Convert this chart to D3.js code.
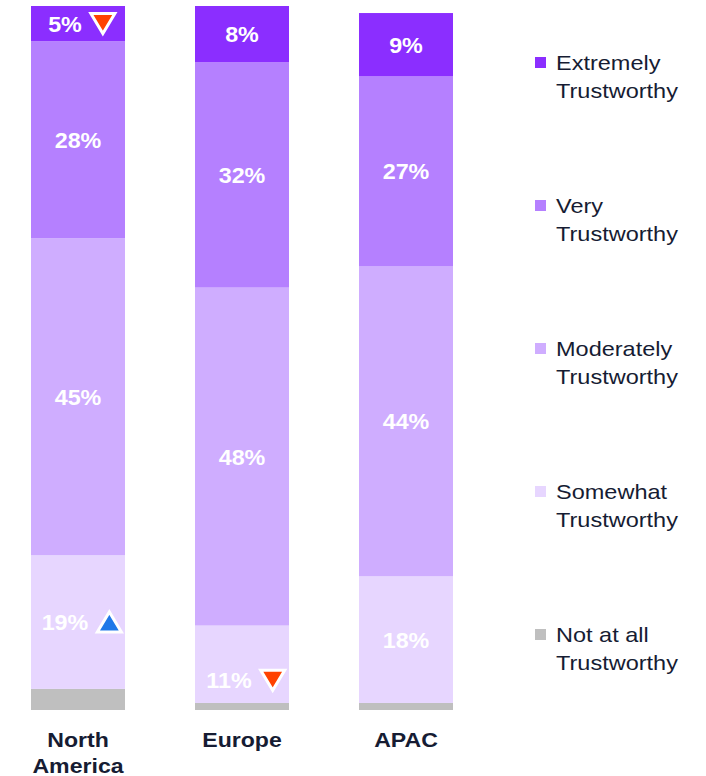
<!DOCTYPE html>
<html>
<head>
<meta charset="utf-8">
<script src="https://cdn.jsdelivr.net/npm/d3@7"></script>
<style>
	body { margin: 0; background: #fff; }
	svg { display: block; }
	text { font-family: Arial, "Liberation Sans", sans-serif; }
</style>
</head>
<body>
<svg id="chart" width="706" height="776"></svg>
<script>
'use strict';

// data
var categories = ["North America", "Europe", "APAC"];
var series = ["Extremely Trustworthy", "Very Trustworthy", "Moderately Trustworthy", "Somewhat Trustworthy", "Not at all Trustworthy"];
var extremely = [5, 8, 9];
var very = [28, 32, 27];
var moderately = [45, 48, 44];
var somewhat = [19, 11, 18];
var notAtAll = [3, 1, 1];
var showLabel = [true, true, true, true, false];
// significance arrows: category index, series index, direction
var arrows = [
	{cat: 0, ser: 0, dir: "down"},
	{cat: 0, ser: 3, dir: "up"},
	{cat: 1, ser: 3, dir: "down"}
];

var colors = ["#8b2eff", "#b580ff", "#cfadff", "#e7d6ff", "#bfbfbf"];
var textDark = "#161c33";
var sx = 1.1; // the original text is a bit wider than Arial

var svg = d3.select("#chart");

var x = d3.scaleBand().domain(categories).range([31, 453]).paddingInner(0.4268).paddingOuter(0);
var y = d3.scaleLinear().domain([0, 100]).range([710, 6]);

// stack bottom-up: not at all first
var valuesBySeries = [extremely, very, moderately, somewhat, notAtAll];
var rows = categories.map(function(c, i){
	var r = {cat: c};
	series.forEach(function(s, j){ r[s] = valuesBySeries[j][i]; });
	return r;
});
var stackKeys = series.slice().reverse();
var stacked = d3.stack().keys(stackKeys)(rows);

var layers = svg.append("g").selectAll("g")
	.data(stacked)
	.join("g")
	.attr("fill", function(d){ return colors[series.indexOf(d.key)]; });

layers.selectAll("rect")
	.data(function(d){ return d; })
	.join("rect")
	.attr("x", function(d){ return x(d.data.cat); })
	.attr("width", x.bandwidth())
	.attr("y", function(d){ return y(d[1]); })
	.attr("height", function(d){ return y(d[0]) - y(d[1]); });

function placeText(sel, tx, ty, s){
	sel.attr("transform", "translate(" + tx + "," + ty + ") scale(" + (s || sx) + ",1)");
}

// value labels
var labelG = svg.append("g");
var labelShift = {"1-3": 16}; // Europe somewhat label sits low
var lsx = 1.06;
stacked.forEach(function(layer){
	var si = series.indexOf(layer.key);
	if (!showLabel[si]) return;
	layer.forEach(function(d, ci){
		var cx = x(d.data.cat) + x.bandwidth() / 2;
		var mid = (y(d[0]) + y(d[1])) / 2 + (labelShift[ci + "-" + si] || 0);
		var arrow = arrows.find(function(a){ return a.cat === ci && a.ser === si; });
		var t = labelG.append("text")
			.attr("fill", "#fff")
			.attr("font-weight", "bold")
			.attr("font-size", 22)
			.text((d[1] - d[0]) + "%");
		if (!arrow) {
			t.attr("text-anchor", "middle");
			placeText(t, cx, mid + 8, lsx);
			return;
		}
		var tw = t.node().getComputedTextLength() * lsx;
		var total = tw + 21 + 13;
		var start = cx + 4 - total / 2;
		t.attr("text-anchor", "start");
		placeText(t, start, mid + 8, lsx);
		var ax = start + tw + 21;
		var hw = 12, h = 20;
		var pts = arrow.dir === "down"
			? [[ax - hw, mid - h / 2], [ax + hw, mid - h / 2], [ax, mid + h / 2]]
			: [[ax - hw, mid + h / 2], [ax + hw, mid + h / 2], [ax, mid - h / 2]];
		labelG.append("path")
			.attr("d", d3.line()(pts) + "Z")
			.attr("fill", arrow.dir === "down" ? "#ff4200" : "#1f78e8")
			.attr("stroke", "#fff")
			.attr("stroke-width", 3)
			.attr("stroke-linejoin", "miter");
	});
});

// category labels
var catG = svg.append("g");
categories.forEach(function(c){
	var cx = x(c) + x.bandwidth() / 2;
	var words = c.split(" ");
	words.forEach(function(w, k){
		var t = catG.append("text")
			.attr("fill", textDark)
			.attr("font-weight", "bold")
			.attr("font-size", 21)
			.attr("text-anchor", "middle")
			.text(w);
		placeText(t, cx, 747 + k * 26);
	});
});

// legend
var legend = svg.append("g");
series.forEach(function(s, i){
	var base = 70 + i * 143;
	legend.append("rect")
		.attr("x", 535).attr("y", base - 13)
		.attr("width", 11).attr("height", 11)
		.attr("fill", colors[i]);
	var parts = s === "Not at all Trustworthy" ? ["Not at all", "Trustworthy"] : s.split(" ");
	parts.forEach(function(p, k){
		var t = legend.append("text")
			.attr("fill", textDark)
			.attr("font-size", 21)
			.text(p);
		placeText(t, 556, base + k * 28, 1.12);
	});
});
</script>
</body>
</html>
